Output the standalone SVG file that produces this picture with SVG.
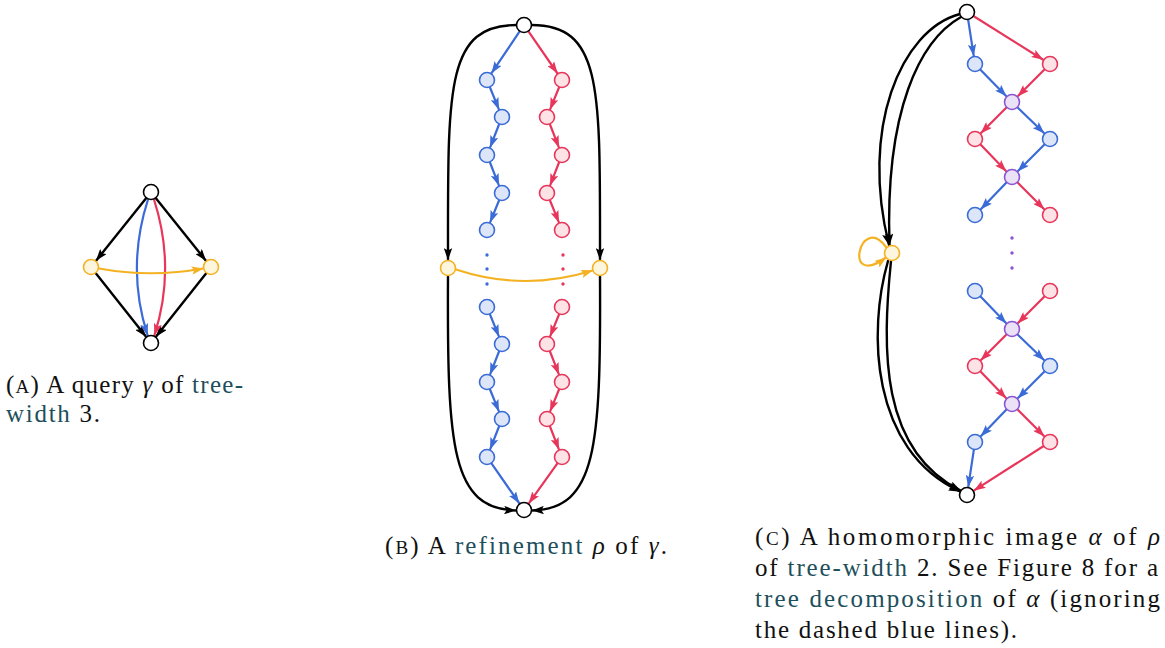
<svg xmlns="http://www.w3.org/2000/svg" width="1165" height="648" viewBox="0 0 1165 648">
<style>
.e{fill:none;stroke-width:2.2;stroke-linecap:round}
.k{stroke:#000;marker-end:url(#ak);stroke-width:2.4}
.b{stroke:#3a6bd6;marker-end:url(#ab)}
.r{stroke:#e8365b;marker-end:url(#ar)}
.y{stroke:#f4b223;marker-end:url(#ay)}
.nw{fill:#fff;stroke:#000;stroke-width:1.6}
.nb{fill:#dde6f8;stroke:#3a6bd6;stroke-width:1.6}
.nr{fill:#fde2e6;stroke:#e8365b;stroke-width:1.6}
.ny{fill:#fdf6df;stroke:#f4b223;stroke-width:1.6}
.np{fill:#ece2f8;stroke:#8a55d1;stroke-width:1.6}
.t{font-size:25px;fill:#111}
.l{fill:#1d4f5c}
.m{font-style:italic}
.sc{font-size:19px}
</style>
<defs>
<marker id="ak" viewBox="0 0 10 7" refX="9.5" refY="3.5" markerWidth="12" markerHeight="8.4" markerUnits="userSpaceOnUse" orient="auto"><path d="M0,0 L10,3.5 L0,7 L2,3.5 z" fill="#000"/></marker>
<marker id="ab" viewBox="0 0 10 7" refX="9.5" refY="3.5" markerWidth="12" markerHeight="8.4" markerUnits="userSpaceOnUse" orient="auto"><path d="M0,0 L10,3.5 L0,7 L2,3.5 z" fill="#3a6bd6"/></marker>
<marker id="ar" viewBox="0 0 10 7" refX="9.5" refY="3.5" markerWidth="12" markerHeight="8.4" markerUnits="userSpaceOnUse" orient="auto"><path d="M0,0 L10,3.5 L0,7 L2,3.5 z" fill="#e8365b"/></marker>
<marker id="ay" viewBox="0 0 10 7" refX="9.5" refY="3.5" markerWidth="12" markerHeight="8.4" markerUnits="userSpaceOnUse" orient="auto"><path d="M0,0 L10,3.5 L0,7 L2,3.5 z" fill="#f4b223"/></marker>
</defs>

<!-- Panel A connectors -->
<g id="connectors-a">
<path class="e k" d="M146.3,197.9 L96.3,260.4"/>
<path class="e k" d="M155.7,197.9 L205.7,260.4"/>
<path class="e k" d="M95.6,272.9 L145.7,336.3"/>
<path class="e k" d="M206.4,272.9 L156.3,336.3"/>
<path class="e b" d="M148,199.5 Q126,268 147.5,335"/>
<path class="e r" d="M154,199.5 Q176,268 154.5,335"/>
<path class="e y" d="M99,268.5 Q151,278 203,268.5"/>
</g>
<g id="a-top"><circle class="nw" cx="151" cy="192" r="7.5"/></g>
<g id="a-left"><circle class="ny" cx="91" cy="267" r="7.5"/></g>
<g id="a-right"><circle class="ny" cx="211" cy="267" r="7.5"/></g>
<g id="a-bottom"><circle class="nw" cx="151" cy="343" r="7.5"/></g>

<!-- Panel B connectors -->
<g id="connectors-b">
<path class="e k" d="M516.5,25 C445,25 448,90 448,259.5"/>
<path class="e k" d="M531.5,25 C603,25 600,90 600,259.5"/>
<path class="e k" d="M448,276 C447,450 452,508 515.5,510.5"/>
<path class="e k" d="M600,276 C601,450 596,508 532.5,510.5"/>
<path class="e y" d="M456,269.5 Q524,292 592.5,270.5"/>
<path class="e b" d="M519.8,31.2 L491.7,72.9"/>
<path class="e r" d="M528.3,31.2 L557.2,73"/>
<path class="e b" d="M489.8,87 L498.8,109.1"/>
<path class="e b" d="M499.2,124 L490.2,147.1"/>
<path class="e b" d="M489.8,162 L498.8,185.1"/>
<path class="e b" d="M499.2,200 L490.2,222.1"/>
<path class="e r" d="M559.2,87 L550.2,109.1"/>
<path class="e r" d="M549.8,124 L558.8,147.1"/>
<path class="e r" d="M559.2,162 L550.2,185.1"/>
<path class="e r" d="M549.8,200 L558.8,222.1"/>
<path class="e b" d="M489.8,314 L498.8,336.1"/>
<path class="e b" d="M499.2,351 L490.2,374.1"/>
<path class="e b" d="M489.8,389 L498.8,411.1"/>
<path class="e b" d="M499.2,426 L490.2,449.1"/>
<path class="e r" d="M559.2,314 L550.2,336.1"/>
<path class="e r" d="M549.8,351 L558.8,374.1"/>
<path class="e r" d="M559.2,389 L550.2,411.1"/>
<path class="e r" d="M549.8,426 L558.8,449.1"/>
<path class="e b" d="M491.3,463.2 L519.1,503"/>
<path class="e r" d="M557.6,463.1 L529,503.1"/>
</g>
<g id="b-top"><circle class="nw" cx="524" cy="25" r="7.5"/></g>
<g id="b-bottom"><circle class="nw" cx="524" cy="510" r="7.5"/></g>
<g id="b-yl"><circle class="ny" cx="448" cy="268" r="7.5"/></g>
<g id="b-yr"><circle class="ny" cx="600" cy="268" r="7.5"/></g>
<g id="b-blue">
<circle class="nb" cx="487" cy="80" r="7.5"/>
<circle class="nb" cx="502" cy="117" r="7.5"/>
<circle class="nb" cx="487" cy="155" r="7.5"/>
<circle class="nb" cx="502" cy="193" r="7.5"/>
<circle class="nb" cx="487" cy="230" r="7.5"/>
<circle class="nb" cx="487" cy="307" r="7.5"/>
<circle class="nb" cx="502" cy="344" r="7.5"/>
<circle class="nb" cx="487" cy="382" r="7.5"/>
<circle class="nb" cx="502" cy="419" r="7.5"/>
<circle class="nb" cx="487" cy="457" r="7.5"/>
</g>
<g id="b-red">
<circle class="nr" cx="562" cy="80" r="7.5"/>
<circle class="nr" cx="547" cy="117" r="7.5"/>
<circle class="nr" cx="562" cy="155" r="7.5"/>
<circle class="nr" cx="547" cy="193" r="7.5"/>
<circle class="nr" cx="562" cy="230" r="7.5"/>
<circle class="nr" cx="562" cy="307" r="7.5"/>
<circle class="nr" cx="547" cy="344" r="7.5"/>
<circle class="nr" cx="562" cy="382" r="7.5"/>
<circle class="nr" cx="547" cy="419" r="7.5"/>
<circle class="nr" cx="562" cy="457" r="7.5"/>
</g>
<g id="b-dots">
<circle cx="487" cy="255" r="1.7" fill="#3a6bd6"/>
<circle cx="487" cy="269" r="1.7" fill="#3a6bd6"/>
<circle cx="487" cy="284" r="1.7" fill="#3a6bd6"/>
<circle cx="563" cy="255" r="1.7" fill="#e8365b"/>
<circle cx="563" cy="269" r="1.7" fill="#e8365b"/>
<circle cx="563" cy="284" r="1.7" fill="#e8365b"/>
</g>

<!-- Panel C connectors -->
<g id="connectors-c">
<path class="e k" d="M960,14 C900,30 860,130 889,245"/>
<path class="e k" d="M961,17 C920,40 885,110 889.5,245"/>
<path class="e k" d="M888,261 C868,330 870,450 960,491.5"/>
<path class="e k" d="M891,261 C882,350 880,450 960.5,490.5"/>
<path class="e y" d="M886,247 C860,212 842,290 886,257.5"/>
<path class="e b" d="M968.1,19.4 L973.7,55.6"/>
<path class="e r" d="M973.4,16 L1042.8,59.5"/>
<path class="e b" d="M980.2,69.4 L1006.1,95.9"/>
<path class="e r" d="M1044.7,69.3 L1018,96"/>
<path class="e r" d="M1006.7,107.3 L981,133"/>
<path class="e b" d="M1017.3,107.3 L1044,133"/>
<path class="e r" d="M980.3,144.3 L1006,171"/>
<path class="e b" d="M1044.7,144.3 L1018,171"/>
<path class="e b" d="M1006.7,182.3 L981,209"/>
<path class="e r" d="M1017.3,182.3 L1044,209"/>
<path class="e b" d="M980.3,296.3 L1006,323"/>
<path class="e r" d="M1044.7,296.3 L1018,323"/>
<path class="e r" d="M1006.7,334.3 L981,360"/>
<path class="e b" d="M1017.3,334.3 L1044,360"/>
<path class="e r" d="M980.3,371.3 L1006,398"/>
<path class="e b" d="M1044.7,371.3 L1018,398"/>
<path class="e b" d="M1006.7,409.3 L981,436"/>
<path class="e r" d="M1017.3,409.3 L1044,436"/>
<path class="e b" d="M973.9,449.4 L968.3,486.6"/>
<path class="e r" d="M1043.7,446 L974.2,490.4"/>
</g>
<g id="c-top"><circle class="nw" cx="967" cy="12" r="7.5"/></g>
<g id="c-bottom"><circle class="nw" cx="967" cy="495" r="7.5"/></g>
<g id="c-yellow"><circle class="ny" cx="892" cy="253" r="7.5"/></g>
<g id="c-blue">
<circle class="nb" cx="975" cy="64" r="7.5"/>
<circle class="nb" cx="1050" cy="139" r="7.5"/>
<circle class="nb" cx="975" cy="215" r="7.5"/>
<circle class="nb" cx="975" cy="291" r="7.5"/>
<circle class="nb" cx="1050" cy="366" r="7.5"/>
<circle class="nb" cx="975" cy="442" r="7.5"/>
</g>
<g id="c-red">
<circle class="nr" cx="1050" cy="64" r="7.5"/>
<circle class="nr" cx="975" cy="139" r="7.5"/>
<circle class="nr" cx="1050" cy="215" r="7.5"/>
<circle class="nr" cx="1050" cy="291" r="7.5"/>
<circle class="nr" cx="975" cy="366" r="7.5"/>
<circle class="nr" cx="1050" cy="442" r="7.5"/>
</g>
<g id="c-purple">
<circle class="np" cx="1012" cy="102" r="7.5"/>
<circle class="np" cx="1012" cy="177" r="7.5"/>
<circle class="np" cx="1012" cy="329" r="7.5"/>
<circle class="np" cx="1012" cy="404" r="7.5"/>
</g>
<g id="c-dots">
<circle cx="1012" cy="238" r="1.7" fill="#8a55d1"/>
<circle cx="1012" cy="253" r="1.7" fill="#8a55d1"/>
<circle cx="1012" cy="268" r="1.7" fill="#8a55d1"/>
</g>

<!-- Captions -->
<g id="captions" font-family="'Liberation Serif', 'DejaVu Serif', 'Times New Roman', serif">
<g id="caption-a">
<text class="t" x="6" y="393" textLength="237" lengthAdjust="spacing">(<tspan class="sc">A</tspan>) A query <tspan class="m">γ</tspan> of <tspan class="l">tree-</tspan></text>
<text class="t" x="6" y="422" textLength="94" lengthAdjust="spacing"><tspan class="l">width</tspan> 3.</text>
</g>
<g id="caption-b">
<text class="t" x="385" y="554" textLength="282" lengthAdjust="spacing">(<tspan class="sc">B</tspan>) A <tspan class="l">refinement</tspan> <tspan class="m">ρ</tspan> of <tspan class="m">γ</tspan>.</text>
</g>
<g id="caption-c">
<text class="t" x="755" y="545" textLength="405" lengthAdjust="spacing">(<tspan class="sc">C</tspan>) A homomorphic image <tspan class="m">α</tspan> of <tspan class="m">ρ</tspan></text>
<text class="t" x="755" y="576" textLength="403" lengthAdjust="spacing">of <tspan class="l">tree-width</tspan> 2. See Figure 8 for a</text>
<text class="t" x="755" y="607" textLength="405" lengthAdjust="spacing"><tspan class="l">tree decomposition</tspan> of <tspan class="m">α</tspan> (ignoring</text>
<text class="t" x="755" y="638" textLength="262" lengthAdjust="spacing">the dashed blue lines).</text>
</g>
</g>
</svg>
